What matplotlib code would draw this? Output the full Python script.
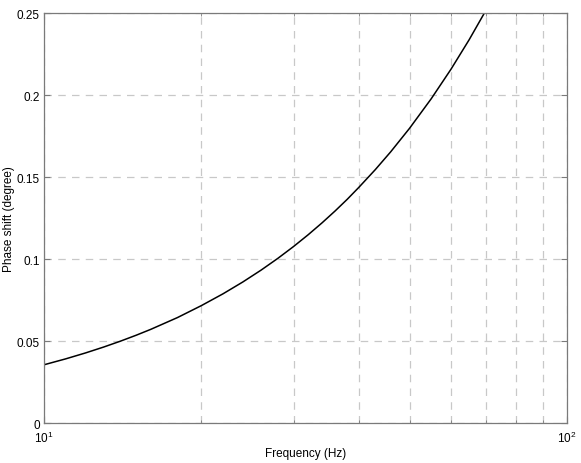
import matplotlib
matplotlib.use("Agg")
import matplotlib.pyplot as plt
from matplotlib.ticker import FixedLocator, NullFormatter

plt.rcParams['font.family'] = ['Liberation Sans', 'DejaVu Sans']

# values
freq = [10, 11, 12, 13, 14, 15, 16, 18, 20, 22, 24, 26, 28, 30, 32, 34,
        36, 38, 40, 43, 46, 50, 55, 60, 65, 70]
phase = [0.0355, 0.0391, 0.0427, 0.0463, 0.0499, 0.0535, 0.0571, 0.0643,
         0.0716, 0.0788, 0.0860, 0.0932, 0.1004, 0.1076, 0.1148, 0.1220,
         0.1292, 0.1364, 0.1437, 0.1545, 0.1653, 0.1797, 0.1977, 0.2157,
         0.2337, 0.2517]

yticks = [0, 0.05, 0.1, 0.15, 0.2, 0.25]
ytick_labels = ['0', '0.05', '0.1', '0.15', '0.2', '0.25']

fig = plt.figure(figsize=(5.81, 4.64), dpi=100)
ax = fig.add_axes([0.0757, 0.0862, 0.9002, 0.8836])

ax.plot(freq, phase, color='black', linewidth=1.1)
ax.set_xscale('log')
ax.set_xlim(10, 100)
ax.set_ylim(0, 0.25)

ax.set_yticks(yticks)
ax.set_yticklabels(ytick_labels)
ax.xaxis.set_minor_locator(FixedLocator([20, 30, 40, 50, 60, 70, 80, 90]))
ax.xaxis.set_minor_formatter(NullFormatter())

ax.grid(True, which='both', linestyle=(0, (6, 5)), color='#c8c8c8', linewidth=0.9)
ax.set_axisbelow(True)

for s in ax.spines.values():
    s.set_color('#7a7a7a')
    s.set_linewidth(0.9)

ax.tick_params(which='both', direction='in', top=True, right=True,
               color='#7a7a7a', labelsize=8.5, pad=3)
ax.tick_params(axis='x', which='major', pad=5)
ax.tick_params(which='major', length=4)
ax.tick_params(which='minor', length=2.5)

ax.set_xlabel('Frequency (Hz)', fontsize=8.5, labelpad=1)
ax.set_ylabel('Phase shift (degree)', fontsize=8.5, labelpad=1)

fig.savefig('out.png', dpi=100)
